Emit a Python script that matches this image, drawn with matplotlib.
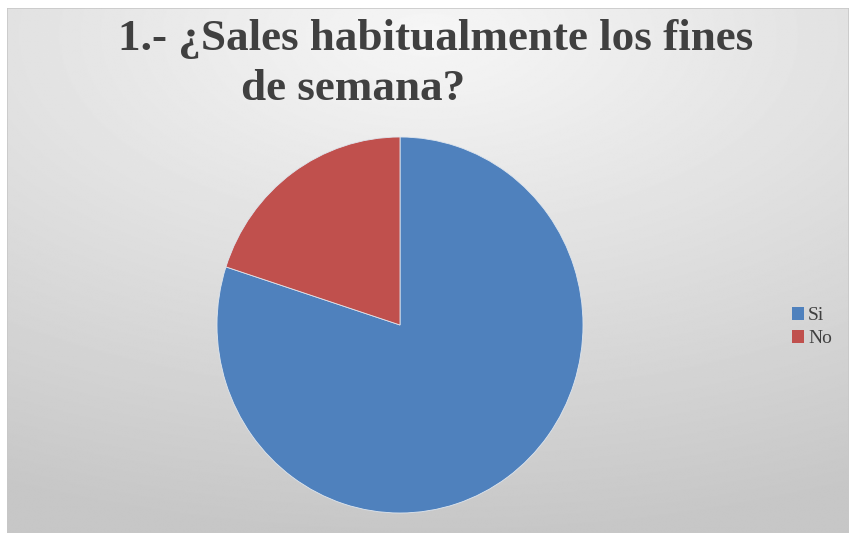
import numpy as np
import matplotlib.pyplot as plt
from matplotlib.patches import Rectangle

# datos
categorias = ['Si', 'No']
valores = [80, 20]
colores = ['#4f81bd', '#c0504d']
titulo_1 = '1.- ¿Sales habitualmente los fines'
titulo_2 = 'de semana?'

W, H = 849, 533
fig = plt.figure(figsize=(W / 100, H / 100), dpi=100)
fig.patch.set_facecolor('white')

# fondo degradado del area del grafico
bg = fig.add_axes([7 / W, 0, 1 - 7 / W, 1 - 8 / H])
bg.set_axis_off()
yy, xx = np.mgrid[0:400, 0:640]
cx, cy = 320, 20
d = np.sqrt(((xx - cx) / 640) ** 2 + ((yy - cy) / 330) ** 2)
d = np.clip(d / 1.15, 0, 1)
grad = 0.965 - 0.185 * d
bg.imshow(grad, cmap='gray', vmin=0, vmax=1, aspect='auto',
          extent=[0, 1, 0, 1], origin='upper', interpolation='bilinear')
bg.add_patch(Rectangle((0, 0), 1, 1, transform=bg.transAxes, fill=False,
                       edgecolor='#c8c8c8', lw=1.2))
bg.set_xlim(0, 1)
bg.set_ylim(0, 1)

# pastel
rx, ry = 183, 188
cxp, cyp = 400, 325
ax = fig.add_axes([(cxp - rx) / W, (H - cyp - ry) / H, 2 * rx / W, 2 * ry / H])
ax.pie(valores, colors=colores, startangle=90, counterclock=False,
       wedgeprops=dict(edgecolor='#dfe6ee', linewidth=0.6))
ax.set_aspect('auto')
ax.set_xlim(-1, 1)
ax.set_ylim(-1, 1)
ax.axis('off')

# titulo
fuente = ['Liberation Serif', 'DejaVu Serif']
fig.text(436 / W, 1 - 50 / H, titulo_1, ha='center', va='baseline',
         fontsize=32.5, fontweight='bold', color='#404040', family=fuente)
fig.text(353 / W, 1 - 100 / H, titulo_2, ha='center', va='baseline',
         fontsize=32.5, fontweight='bold', color='#404040', family=fuente)

# leyenda
handles = [Rectangle((0, 0), 1, 1, facecolor=c) for c in colores]
fig.legend(handles, categorias, loc='center left',
           bbox_to_anchor=(774 / W, 1 - 327 / H), frameon=False,
           prop={'family': fuente, 'size': 14}, handlelength=0.65,
           handleheight=0.65, handletextpad=0.2, labelspacing=0.3,
           labelcolor='#404040')

fig.savefig('out.png', dpi=100)
